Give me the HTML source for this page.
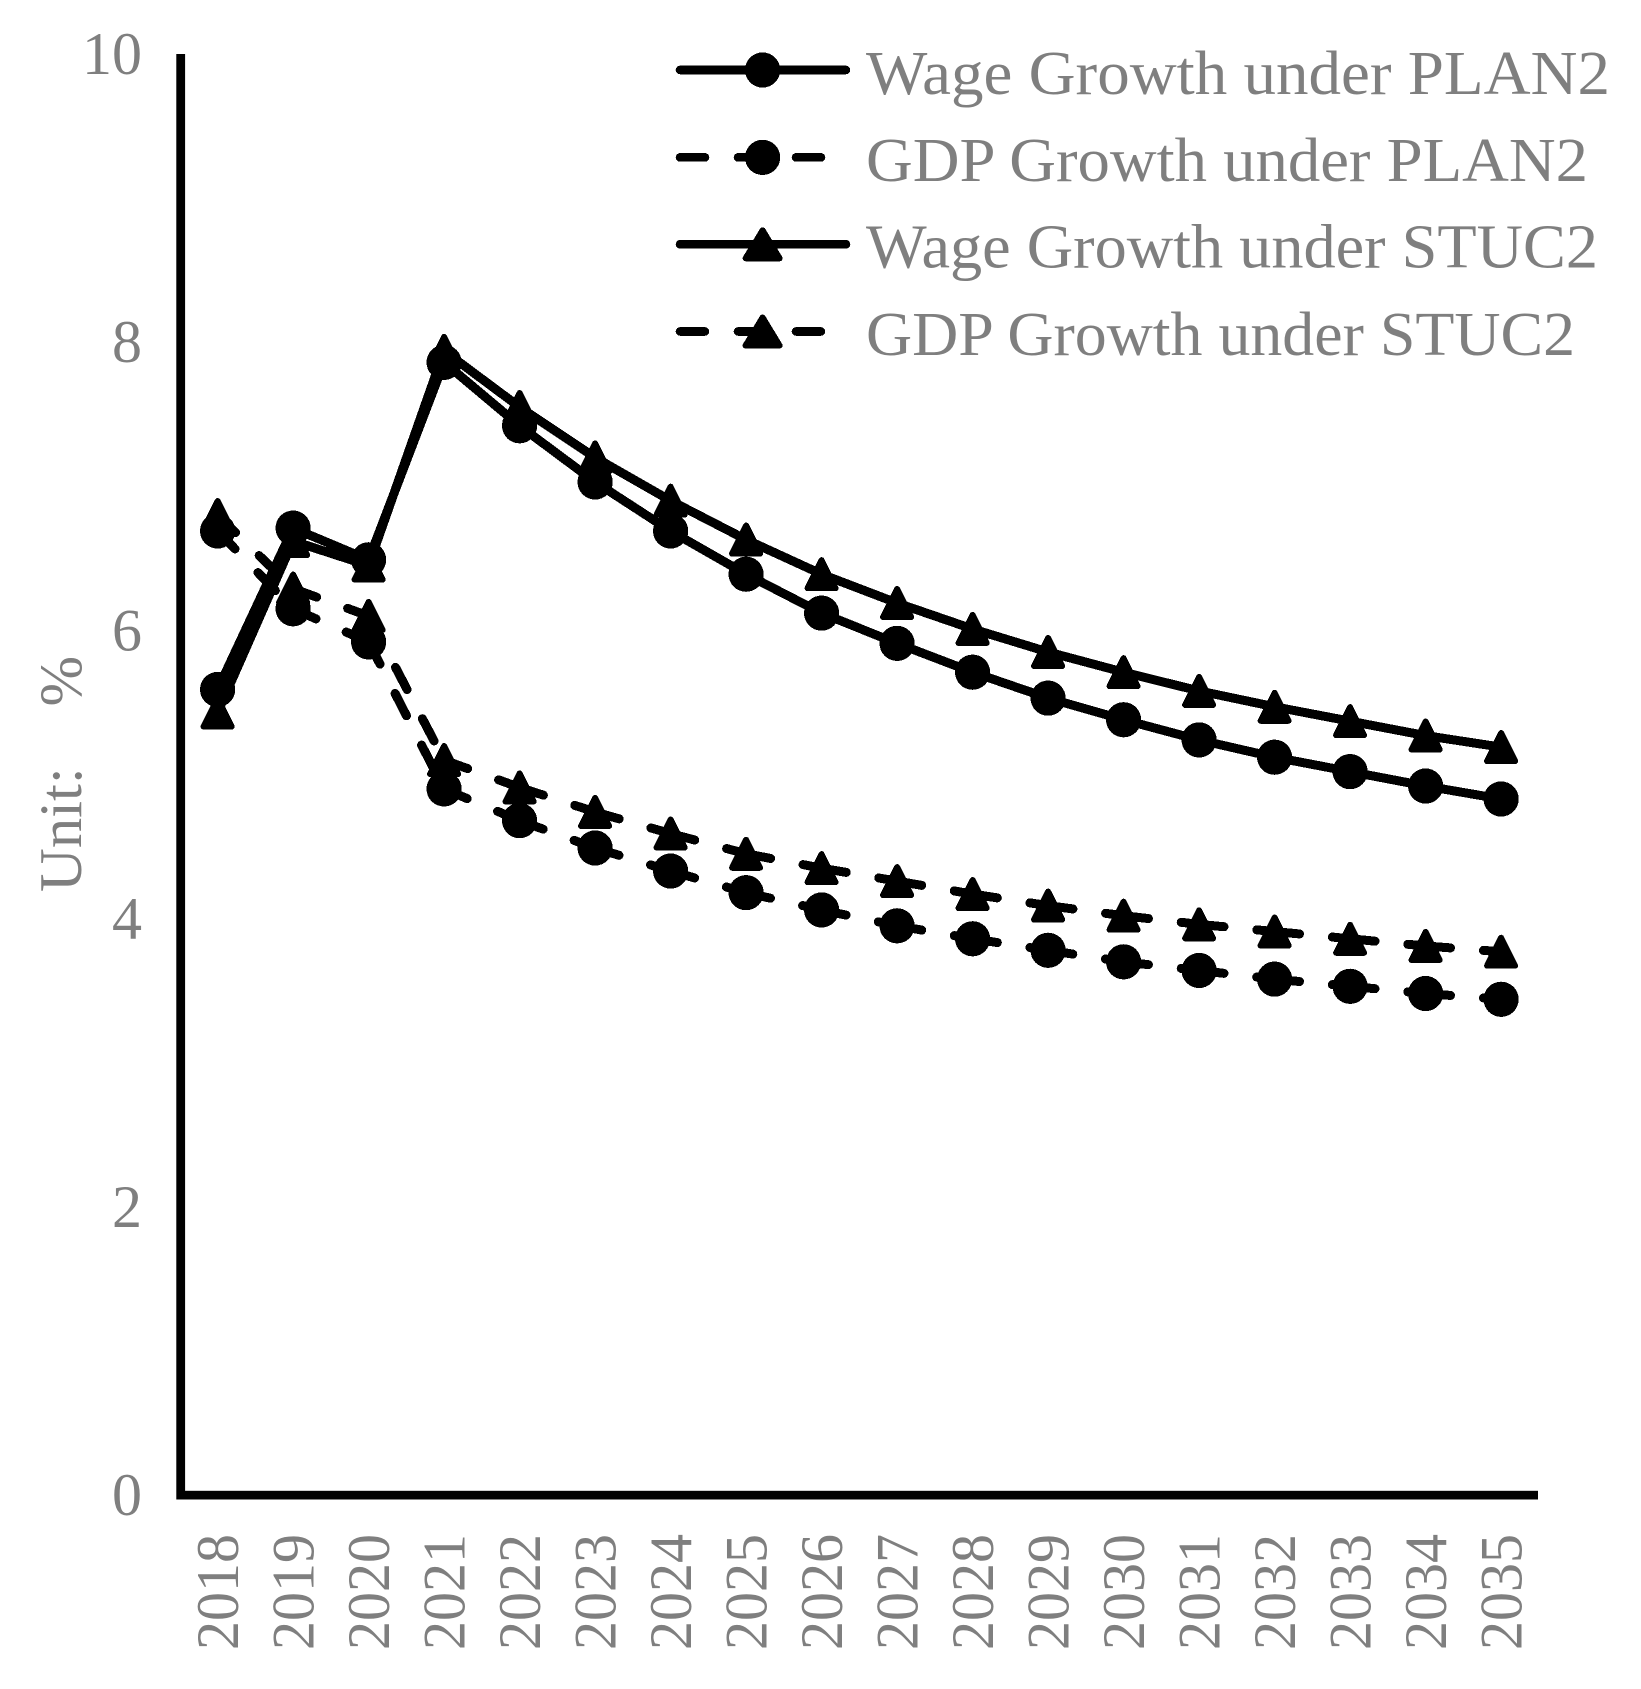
<!DOCTYPE html>
<html lang="en">
<head>
<meta charset="utf-8">
<title>Wage and GDP Growth under PLAN2 and STUC2</title>
<style>
  html, body { margin: 0; padding: 0; background: #ffffff; }
  svg { display: block; }
  text { font-family: "Liberation Serif", serif; fill: #7f7f7f; white-space: pre; }
</style>
</head>
<body>
<svg id="chart" xmlns="http://www.w3.org/2000/svg" width="1641" height="1689" viewBox="0 0 1641 1689">
  <rect x="0" y="0" width="1641" height="1689" fill="#ffffff"/>

  <g id="marks"></g>
  <g id="yticks"></g>
  <g id="xticks"></g>

  <rect x="176.3" y="54" width="8.8" height="1445.5" fill="#000"/>
  <rect x="180" y="1490.8" width="1358" height="8.7" fill="#000"/>

  <text transform="translate(81 892) rotate(-90)" font-size="60" textLength="236" lengthAdjust="spacingAndGlyphs">Unit:    %</text>

  <g>
    <g>
      <line x1="680" y1="70" x2="846" y2="70" stroke="#000" stroke-width="8.6" stroke-linecap="round" shape-rendering="crispEdges"/>
      <circle cx="762.6" cy="70" r="17.6" fill="#000" shape-rendering="crispEdges"/>
      <text x="866" y="94" font-size="62" textLength="744" lengthAdjust="spacingAndGlyphs">Wage Growth under PLAN2</text>
    </g>
    <g>
      <line x1="680" y1="157.4" x2="846" y2="157.4" stroke="#000" stroke-width="8.6" stroke-linecap="round" stroke-dasharray="25 33" shape-rendering="crispEdges"/>
      <circle cx="762.6" cy="157.4" r="17.6" fill="#000" shape-rendering="crispEdges"/>
      <text x="866" y="180.8" font-size="62" textLength="722" lengthAdjust="spacingAndGlyphs">GDP Growth under PLAN2</text>
    </g>
    <g>
      <line x1="680" y1="244.3" x2="846" y2="244.3" stroke="#000" stroke-width="8.6" stroke-linecap="round" shape-rendering="crispEdges"/>
      <polygon points="762.6,230.3 779.6,258.3 745.6,258.3" fill="#000" stroke="#000" stroke-width="6" stroke-linejoin="round" shape-rendering="crispEdges"/>
      <text x="866" y="267.6" font-size="62" textLength="732" lengthAdjust="spacingAndGlyphs">Wage Growth under STUC2</text>
    </g>
    <g>
      <line x1="680" y1="331.5" x2="846" y2="331.5" stroke="#000" stroke-width="8.6" stroke-linecap="round" stroke-dasharray="25 33" shape-rendering="crispEdges"/>
      <polygon points="762.6,317.5 779.6,345.5 745.6,345.5" fill="#000" stroke="#000" stroke-width="6" stroke-linejoin="round" shape-rendering="crispEdges"/>
      <text x="866" y="354.8" font-size="62" textLength="709" lengthAdjust="spacingAndGlyphs">GDP Growth under STUC2</text>
    </g>
  </g>
</svg>

<script>
const years = ["2018","2019","2020","2021","2022","2023","2024","2025","2026","2027","2028","2029","2030","2031","2032","2033","2034","2035"];
const yTickLabels = [0, 2, 4, 6, 8, 10];
const wagePlan2 = [5.59,6.71,6.49,7.86,7.42,7.03,6.69,6.39,6.12,5.91,5.71,5.53,5.38,5.24,5.12,5.02,4.92,4.83];
const gdpPlan2  = [6.69,6.15,5.92,4.90,4.68,4.49,4.33,4.18,4.06,3.95,3.86,3.78,3.70,3.64,3.58,3.53,3.48,3.44];
const wageStuc2 = [5.43,6.62,6.45,7.94,7.55,7.20,6.90,6.63,6.39,6.19,6.01,5.85,5.71,5.58,5.47,5.37,5.27,5.19];
const gdpStuc2  = [6.80,6.29,6.10,5.10,4.91,4.74,4.59,4.45,4.35,4.26,4.17,4.09,4.02,3.96,3.91,3.86,3.81,3.77];

const SVG_NS = "http://www.w3.org/2000/svg";
const X_FIRST = 217.6, X_STEP = 75.5, Y_ZERO = 1495, Y_UNIT = 144.1;
function xAt(i) { return X_FIRST + X_STEP * i; }
function yAt(v) { return Y_ZERO - Y_UNIT * v; }

function make(tag, attrs) {
  const node = document.createElementNS(SVG_NS, tag);
  for (const key in attrs) node.setAttribute(key, attrs[key]);
  return node;
}

const marksLayer = document.getElementById("marks");
const xLayer = document.getElementById("xticks");
const yLayer = document.getElementById("yticks");

function drawSeries(name, values, dashed, shape) {
  const group = make("g", {});
  
  
  values.forEach(function (v, i) {
    if (i === 0) return;
    const seg = make("line", {
      x1: xAt(i - 1), y1: yAt(values[i - 1]), x2: xAt(i), y2: yAt(v),
      stroke: "#000", "stroke-width": 9, "stroke-linecap": "round",
      "shape-rendering": "crispEdges"
    });
    if (dashed) seg.setAttribute("stroke-dasharray", "25 33");
    
    
    group.appendChild(seg);
  });
  values.forEach(function (v, i) {
    const cx = xAt(i), cy = yAt(v);
    let mark;
    if (shape === "circle") {
      mark = make("circle", { cx: cx, cy: cy, r: 17.6, fill: "#000", "shape-rendering": "crispEdges" });
    } else {
      const pts = cx + "," + (cy - 14) + " " + (cx + 14) + "," + (cy + 14) + " " + (cx - 14) + "," + (cy + 14);
      mark = make("polygon", { points: pts, fill: "#000", stroke: "#000", "stroke-width": 6, "stroke-linejoin": "round", "shape-rendering": "crispEdges" });
    }
    
    
    group.appendChild(mark);
  });
  marksLayer.appendChild(group);
}

drawSeries("wage-plan2", wagePlan2, false, "circle");
drawSeries("gdp-plan2", gdpPlan2, true, "circle");
drawSeries("wage-stuc2", wageStuc2, false, "triangle");
drawSeries("gdp-stuc2", gdpStuc2, true, "triangle");

yTickLabels.forEach(function (t) {
  const label = make("text", { x: 142, y: yAt(t) + 20, "font-size": 60, "text-anchor": "end" });
  label.textContent = String(t);
  
  
  yLayer.appendChild(label);
});

years.forEach(function (yr, i) {
  const bx = xAt(i) + 20.5, by = 1650;
  const label = make("text", {
    transform: "translate(" + bx + " " + by + ") rotate(-90)",
    "font-size": 60, textLength: 116, lengthAdjust: "spacingAndGlyphs"
  });
  label.textContent = yr;
  
  
  xLayer.appendChild(label);
});
</script>
</body>
</html>
